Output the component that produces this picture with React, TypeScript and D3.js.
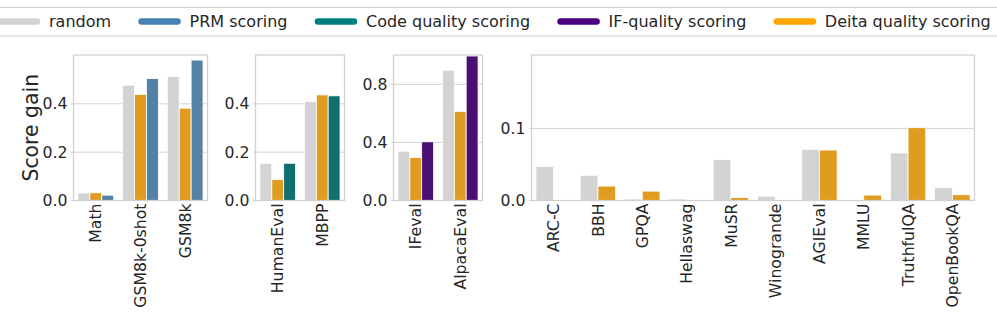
import React, { useRef, useEffect } from 'react';
import * as d3 from 'd3';

// legend entries
const legendLabels = ['random', 'PRM scoring', 'Code quality scoring', 'IF-quality scoring', 'Deita quality scoring'];
const legendColors = ['#d3d3d3', '#4682b4', '#008080', '#4b0082', '#ffa500'];

// math panel
const mathCats = ['Math', 'GSM8k-0shot', 'GSM8k'];
const mathRandom = [0.031, 0.477, 0.513];
const mathDeita = [0.032, 0.439, 0.382];
const mathPrm = [0.022, 0.505, 0.581];

// code panel
const codeCats = ['HumanEval', 'MBPP'];
const codeRandom = [0.154, 0.41];
const codeDeita = [0.087, 0.437];
const codeQuality = [0.154, 0.433];

// instruction following panel
const ifCats = ['IFeval', 'AlpacaEval'];
const ifRandom = [0.34, 0.897];
const ifDeita = [0.296, 0.614];
const ifQuality = [0.404, 0.995];

// general panel
const generalCats = ['ARC-C', 'BBH', 'GPQA', 'Hellaswag', 'MuSR', 'Winogrande', 'AGIEval', 'MMLU', 'TruthfulQA', 'OpenBookQA'];
const generalRandom = [0.047, 0.035, 0.002, 0.002, 0.057, 0.006, 0.071, 0.0, 0.066, 0.018];
const generalDeita = [0.0, 0.02, 0.013, 0.0, 0.004, 0.0, 0.07, 0.0075, 0.101, 0.008];

// y ticks per panel
const mathTicks = [0, 0.2, 0.4];
const codeTicks = [0, 0.2, 0.4];
const ifTicks = [0, 0.4, 0.8];
const generalTicks = [0, 0.1];

// bar fills (seaborn desaturated)
const fillRandom = '#d3d3d3';
const fillDeita = '#df9c20';
const fillPrm = '#5481a6';
const fillCode = '#107070';
const fillIf = '#491072';

const FONT = 'DejaVu Sans, sans-serif';
const TEXT = '#262626';
const GRID = '#d0d0d0';

type Series = { values: number[]; color: string };
type Panel = {
  cats: string[];
  series: Series[];
  ticks: number[];
  yMax: number;
  x0: number;
  x1: number;
};

const panels: Panel[] = [
  {
    cats: mathCats,
    series: [
      { values: mathRandom, color: fillRandom },
      { values: mathDeita, color: fillDeita },
      { values: mathPrm, color: fillPrm },
    ],
    ticks: mathTicks,
    yMax: 0.602,
    x0: 73.5,
    x1: 207.5,
  },
  {
    cats: codeCats,
    series: [
      { values: codeRandom, color: fillRandom },
      { values: codeDeita, color: fillDeita },
      { values: codeQuality, color: fillCode },
    ],
    ticks: codeTicks,
    yMax: 0.602,
    x0: 255.5,
    x1: 344.5,
  },
  {
    cats: ifCats,
    series: [
      { values: ifRandom, color: fillRandom },
      { values: ifDeita, color: fillDeita },
      { values: ifQuality, color: fillIf },
    ],
    ticks: ifTicks,
    yMax: 1.002,
    x0: 393.5,
    x1: 482.5,
  },
  {
    cats: generalCats,
    series: [
      { values: generalRandom, color: fillRandom },
      { values: generalDeita, color: fillDeita },
    ],
    ticks: generalTicks,
    yMax: 0.2018,
    x0: 531.5,
    x1: 974.5,
  },
];

const App = () => {
  const ref = useRef<SVGSVGElement>(null);

  useEffect(() => {
    const svg = d3.select(ref.current);
    svg.selectAll('*').remove();

    const top = 55;
    const bottom = 200.5;

    panels.forEach((p) => {
      const g = svg.append('g');
      const x = d3.scaleBand<string>().domain(p.cats).range([p.x0, p.x1]);
      const y = d3.scaleLinear().domain([0, p.yMax]).range([bottom, top]);
      const bw = x.bandwidth();
      const inner = d3
        .scaleBand<number>()
        .domain(d3.range(p.series.length))
        .range([bw * 0.1, bw * 0.9]);

      // grid
      g.selectAll('.grid')
        .data(p.ticks)
        .enter()
        .append('line')
        .attr('x1', p.x0 - 2.5)
        .attr('x2', p.x1)
        .attr('y1', (d) => y(d))
        .attr('y2', (d) => y(d))
        .attr('stroke', GRID)
        .attr('stroke-width', 1);

      // bars
      p.series.forEach((s, si) => {
        g.selectAll(`.bar-${si}`)
          .data(p.cats)
          .enter()
          .append('rect')
          .attr('x', (c) => (x(c) as number) + (inner(si) as number))
          .attr('width', inner.bandwidth())
          .attr('y', (c, i) => y(s.values[i]))
          .attr('height', (c, i) => bottom - y(s.values[i]))
          .attr('fill', s.color)
          .attr('stroke', '#ffffff')
          .attr('stroke-width', 0.8);
      });

      // frame
      g.append('rect')
        .attr('x', p.x0)
        .attr('y', top)
        .attr('width', p.x1 - p.x0)
        .attr('height', bottom - top)
        .attr('fill', 'none')
        .attr('stroke', GRID)
        .attr('stroke-width', 1.25);

      // y tick labels
      g.selectAll('.ytick')
        .data(p.ticks)
        .enter()
        .append('text')
        .attr('x', p.x0 - 6)
        .attr('y', (d) => y(d))
        .attr('dy', '0.35em')
        .attr('text-anchor', 'end')
        .attr('font-family', FONT)
        .attr('font-size', 15.7)
        .attr('fill', TEXT)
        .text((d) => d3.format('.1f')(d));

      // x tick labels
      g.selectAll('.xtick')
        .data(p.cats)
        .enter()
        .append('text')
        .attr('transform', (c) => `translate(${(x(c) as number) + bw / 2},${bottom + 3})rotate(-90)`)
        .attr('dy', '0.36em')
        .attr('text-anchor', 'end')
        .attr('font-family', FONT)
        .attr('font-size', 15.7)
        .attr('fill', TEXT)
        .text((c) => c);
    });

    // y label
    svg.append('text')
      .attr('transform', `translate(31,${(top + bottom) / 2})rotate(-90)`)
      .attr('dy', '0.35em')
      .attr('text-anchor', 'middle')
      .attr('font-family', FONT)
      .attr('font-size', 20.4)
      .attr('fill', TEXT)
      .text('Score gain');

    // legend box (runs past both edges)
    svg.append('rect')
      .attr('x', -10)
      .attr('y', 7.5)
      .attr('width', 1020)
      .attr('height', 28.5)
      .attr('fill', '#ffffff')
      .attr('stroke', GRID)
      .attr('stroke-width', 1);

    const legend = svg.append('g');
    let lx = 1;
    legendLabels.forEach((label, i) => {
      legend.append('line')
        .attr('x1', lx)
        .attr('x2', lx + 36)
        .attr('y1', 21.5)
        .attr('y2', 21.5)
        .attr('stroke', legendColors[i])
        .attr('stroke-width', 6.5)
        .attr('stroke-linecap', 'round');
      const t = legend.append('text')
        .attr('x', lx + 48)
        .attr('y', 21.5)
        .attr('dy', '0.35em')
        .attr('font-family', FONT)
        .attr('font-size', 16)
        .attr('fill', TEXT)
        .text(label);
      const w = (t.node() as SVGTextElement).getComputedTextLength();
      lx = lx + 48 + w + 30.5;
    });
  }, []);

  return (
    <svg
      ref={ref}
      width={997}
      height={332}
      style={{ position: 'absolute', left: 0, top: 0, background: '#fff' }}
    />
  );
};

export default App;
